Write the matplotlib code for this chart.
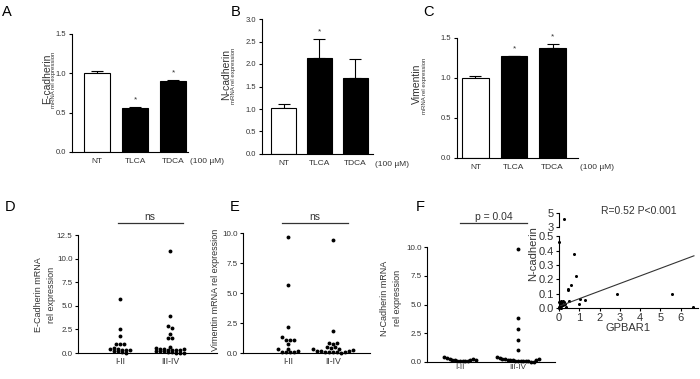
import numpy as np
import matplotlib
matplotlib.use("Agg")
import matplotlib.pyplot as plt
import matplotlib.transforms as mtransforms

plt.rcParams['font.family'] = ['Liberation Sans', 'DejaVu Sans']
plt.rcParams['axes.linewidth'] = 0.8

# ---- bar panels (A-C) ----
treatments = ['NT', 'TLCA', 'TDCA']
ecad_mean = [1.00, 0.56, 0.90]
ecad_err = [0.03, 0.01, 0.01]
ncad_mean = [1.03, 2.13, 1.69]
ncad_err = [0.08, 0.42, 0.43]
vim_mean = [1.00, 1.28, 1.38]
vim_err = [0.02, 0.00, 0.04]
ecad_star = [False, True, True]
ncad_star = [False, True, False]
vim_star = [False, True, True]

# ---- patient scatter panels (D-F) ----
stages = ['I-II', 'III-IV']
ecad_early = [5.7, 2.5, 1.85, 1.0, 0.95, 1.0, 0.45, 0.5, 0.4, 0.3, 0.25, 0.2, 0.1, 0.05, 0.3, 0.35]
ecad_late = [10.8, 3.9, 2.85, 2.7, 2.05, 1.6, 1.6, 0.65, 0.5, 0.45, 0.4, 0.35, 0.3, 0.3,
             0.25, 0.2, 0.2, 0.15, 0.1, 0.05, 0.05, 0.0, 0.3, 0.4]
vim_early = [9.7, 5.7, 2.2, 1.35, 1.05, 1.05, 1.1, 0.75, 0.35, 0.3, 0.1, 0.05, 0.05, 0.05, 0.15]
vim_late = [9.4, 1.8, 0.85, 0.75, 0.8, 0.5, 0.45, 0.5, 0.35, 0.3, 0.2, 0.15, 0.1, 0.1,
            0.05, 0.05, 0.0, 0.1, 0.2, 0.25]
ncad_early = [0.4, 0.35, 0.3, 0.2, 0.15, 0.1, 0.1, 0.1, 0.05, 0.05, 0.15, 0.3, 0.2]
ncad_late = [9.8, 3.8, 2.9, 1.95, 1.05, 0.4, 0.35, 0.3, 0.3, 0.2, 0.2, 0.15, 0.1, 0.1,
             0.1, 0.05, 0.05, 0.05, 0.0, 0.0, 0.15, 0.25]

# ---- inset correlation ----
gpbar1 = [0.0, 0.75, 0.82, 0.57, 0.46, 0.5, 1.03, 1.28, 0.98, 2.87, 5.57, 6.62, 0.0, 0.05,
          0.1, 0.2, 0.15, 0.0, 0.08, 0.2, 0.35, 0.05, 0.3, 0.25, 0.12, 0.0, 0.1, 0.45, 0.25]
ncad_corr = [0.46, 0.377, 0.225, 0.16, 0.125, 0.05, 0.06, 0.055, 0.03, 0.095, 0.095, 0.01,
             0.04, 0.045, 0.03, 0.05, 0.045, 0.01, 0.0, 0.02, 0.01, 0.005, 0.03, 0.04, 0.05,
             0.0, 0.015, 0.13, 4.1]
fit_slope = 0.053
fit_intercept = 0.012

TXT = '#333333'
W, H = 700, 379


def px_axes(l, t, r, b):
    return fig.add_axes([l / W, 1 - b / H, (r - l) / W, (b - t) / H])


def style(ax, fs=5.5, xpad=4):
    for s in ['top', 'right']:
        ax.spines[s].set_visible(False)
    ax.tick_params(axis='y', direction='out', length=2.5, width=0.8, labelsize=fs,
                   labelcolor=TXT, pad=1.5)
    ax.tick_params(axis='x', length=0, labelsize=fs + 0.5, labelcolor=TXT, pad=xpad)


def bar_panel(ax, means, errs, stars, ymax, yticks, xlim):
    x = np.arange(len(means))
    colors = ['white'] + ['black'] * (len(means) - 1)
    ax.bar(x, means, width=0.68, color=colors, edgecolor='black', linewidth=0.8, zorder=2)
    ax.errorbar(x, means, yerr=[np.zeros(len(errs)), errs], fmt='none', ecolor='black',
                elinewidth=0.8, capsize=4, capthick=0.8, zorder=1)
    for xi, m, e, s in zip(x, means, errs, stars):
        if s:
            ax.text(xi, m + e + ymax * 0.03, '*', ha='center', va='bottom', fontsize=6,
                    color=TXT)
    ax.set_ylim(0, ymax)
    ax.set_yticks(yticks)
    ax.set_yticklabels([f'{v:.1f}' for v in yticks])
    ax.set_xticks(x)
    ax.set_xticklabels(treatments)
    ax.set_xlim(*xlim)
    style(ax)
    ax.text(1.02, -0.05, '(100 \u00b5M)', transform=ax.transAxes, fontsize=6,
            color=TXT, va='top', ha='left')


def swarm_offsets(values, bin_h, dx):
    vals = np.asarray(values, dtype=float)
    bins = np.floor(vals / bin_h).astype(int)
    offs = np.zeros(len(vals))
    for b in np.unique(bins):
        idx = np.where(bins == b)[0]
        n = len(idx)
        offs[idx] = (np.arange(n) - (n - 1) / 2) * dx
    return offs


def dot_panel(ax, groups, ymax, yticks, xlim, bin_h, dx, bar_x, bar_y, label):
    for i, g in enumerate(groups):
        xs = i + swarm_offsets(g, bin_h, dx)
        ax.plot(xs, g, 'o', color='black', ms=2.8, mew=0, clip_on=False)
    ax.set_ylim(0, ymax)
    ax.set_yticks(yticks)
    ax.set_yticklabels([f'{v:.1f}' for v in yticks])
    ax.set_xticks(range(len(groups)))
    ax.set_xticklabels(stages)
    ax.set_xlim(*xlim)
    style(ax, fs=5.8, xpad=3)
    trans = mtransforms.blended_transform_factory(ax.transData, ax.transAxes)
    ax.plot(bar_x, [bar_y, bar_y], color='#333333', lw=0.9, transform=trans, clip_on=False)
    ax.text(np.mean(bar_x), bar_y + 0.01, label, transform=trans, ha='center',
            va='bottom', fontsize=7.5, color=TXT)


fig = plt.figure(figsize=(7, 3.79), dpi=100)

# A
axA = px_axes(72, 34, 188, 152)
bar_panel(axA, ecad_mean, ecad_err, ecad_star, 1.5, [0.0, 0.5, 1.0, 1.5], (-0.65, 2.38))
# B
axB = px_axes(262, 19, 373, 154)
bar_panel(axB, ncad_mean, ncad_err, ncad_star, 3.0, [0.0, 0.5, 1.0, 1.5, 2.0, 2.5, 3.0],
          (-0.6, 2.49))
# C
axC = px_axes(457, 38, 578, 158)
bar_panel(axC, vim_mean, vim_err, vim_star, 1.5, [0.0, 0.5, 1.0, 1.5], (-0.48, 2.66))

fig.text(47 / W, 1 - 79 / H, 'E-cadherin', rotation=90, ha='center', va='center',
         fontsize=7.5, color=TXT)
fig.text(54 / W, 1 - 80 / H, 'mRNA rel expression', rotation=90, ha='center',
         va='center', fontsize=4.3, color=TXT)
fig.text(226 / W, 1 - 75 / H, 'N-cadherin', rotation=90, ha='center', va='center',
         fontsize=7.5, color=TXT)
fig.text(233 / W, 1 - 76 / H, 'mRNA rel expression', rotation=90, ha='center',
         va='center', fontsize=4.3, color=TXT)
fig.text(417 / W, 1 - 84 / H, 'Vimentin', rotation=90, ha='center', va='center',
         fontsize=7.5, color=TXT)
fig.text(424.5 / W, 1 - 86 / H, 'mRNA rel expression', rotation=90, ha='center',
         va='center', fontsize=4.3, color=TXT)

# D
axD = px_axes(78, 235, 217, 353)
dot_panel(axD, [ecad_early, ecad_late], 12.5, [0.0, 2.5, 5.0, 7.5, 10.0, 12.5],
          (-0.84, 1.94), 0.3, 0.08, [-0.05, 1.25], 1.10, 'ns')
fig.text(45 / W, 1 - 295 / H, 'E-Cadherin mRNA\nrel expression', rotation=90,
         ha='center', va='center', fontsize=6.5, color=TXT, linespacing=1.6)
# E
axE = px_axes(243, 233, 370, 353)
dot_panel(axE, [vim_early, vim_late], 10.0, [0.0, 2.5, 5.0, 7.5, 10.0],
          (-1.0, 1.82), 0.35, 0.09, [-0.13, 1.33], 1.083, 'ns')
axE.set_xticklabels(['I-II', 'II-IV'])
fig.text(216 / W, 1 - 290 / H, 'Vimentin mRNA rel expression', rotation=90,
         ha='center', va='center', fontsize=6.5, color=TXT)
# F
axF = px_axes(427, 247, 555, 362)
dot_panel(axF, [ncad_early, ncad_late], 10.0, [0.0, 2.5, 5.0, 7.5, 10.0],
          (-0.57, 1.64), 0.5, 0.045, [0.0, 1.16], 1.21, 'p = 0.04')
axF.tick_params(axis='x', pad=1.5, labelsize=5.8)
fig.text(391 / W, 1 - 298 / H, 'N-Cadherin mRNA\nrel expression', rotation=90,
         ha='center', va='center', fontsize=6.5, color=TXT, linespacing=1.6)

# inset: broken y axis
gx = np.array(gpbar1)
ny = np.array(ncad_corr)
low = ny <= 0.5
axI = px_axes(559, 234, 698, 308)
axI.plot(gx[low], ny[low], 'o', color='black', ms=2.2, mew=0, clip_on=False)
xfit = np.array([0.1, 6.65])
axI.plot(xfit, fit_intercept + fit_slope * xfit, color='#333333', lw=0.8)
axI.set_xlim(0, 6.85)
axI.set_ylim(0, 0.5 * 74 / 71.6)
axI.set_yticks([0.0, 0.1, 0.2, 0.3, 0.4, 0.5])
axI.set_yticklabels(['0.0', '0.1', '0.2', '0.3', '0.4', '0.5'])
axI.set_xticks(range(7))
for s in ['top', 'right']:
    axI.spines[s].set_visible(False)
axI.spines['left'].set_bounds(0, 0.5)
axI.tick_params(direction='out', length=2.5, width=0.8, labelsize=8, labelcolor=TXT, pad=1)
axI.set_xlabel('GPBAR1', fontsize=8, color=TXT, labelpad=0)

axU = px_axes(559, 213, 698, 227)
axU.plot(gx[~low], ny[~low], 'o', color='black', ms=2.2, mew=0, clip_on=False)
axU.set_xlim(0, 6.85)
axU.set_ylim(3, 5)
axU.set_yticks([3, 5])
axU.set_xticks([])
for s in ['top', 'right', 'bottom']:
    axU.spines[s].set_visible(False)
axU.tick_params(direction='out', length=2.5, width=0.8, labelsize=8, labelcolor=TXT, pad=1)
axU.patch.set_alpha(0)

fig.text(533.5 / W, 1 - 254 / H, 'N-cadherin', rotation=90, ha='center', va='center',
         fontsize=8, color=TXT)
fig.text(639 / W, 1 - 211 / H, 'R=0.52 P<0.001', ha='center', va='center',
         fontsize=7.5, color=TXT)

# panel letters
for letter, (lx, ly) in {'A': (7, 12), 'B': (236, 12), 'C': (428, 12),
                         'D': (10, 207), 'E': (235, 207), 'F': (420, 207)}.items():
    fig.text(lx / W, 1 - ly / H, letter, ha='center', va='center', fontsize=10.5,
             color='black')

fig.savefig('out.png', dpi=100)
